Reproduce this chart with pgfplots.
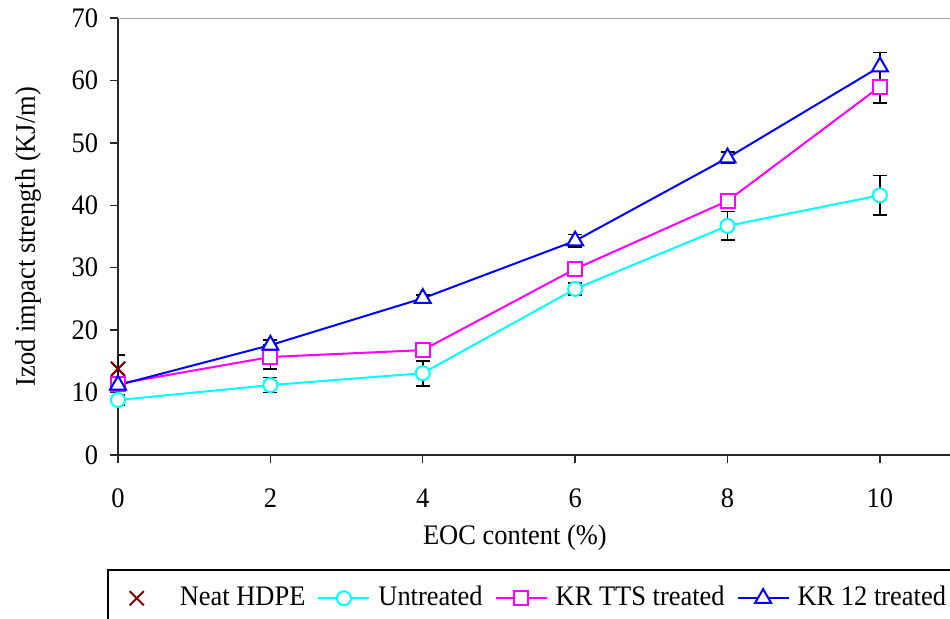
\documentclass[border=0pt]{standalone}
\usepackage{fontspec}
\setmainfont{Liberation Serif}[FakeStretch=0.935]
\usepackage{pgfplots}
\pgfplotsset{compat=1.18}

\definecolor{neatred}{RGB}{128,0,0}
\definecolor{axisgray}{RGB}{40,40,40}
\definecolor{untreatedc}{RGB}{0,255,255}
\definecolor{kttsc}{RGB}{255,0,255}
\definecolor{k12c}{RGB}{0,0,255}

\newcommand{\chartfont}{\fontsize{14.2}{16}\selectfont}

\pgfplotsset{
  linelegend/.style={legend image code/.code={%
    \draw[mark repeat=2,mark phase=2,##1]
      plot coordinates {(0bp,0bp) (12.75bp,0bp) (25.5bp,0bp)};}},
  marklegend/.style={legend image code/.code={%
    \path[draw=none] (0bp,0bp) -- (28bp,0bp);
    \draw[##1] plot coordinates {(10.5bp,0bp)};}},
}

\begin{document}
\chartfont
\begin{tikzpicture}
\useasboundingbox (-59bp,-82bp) rectangle (416bp,227.5bp);
\clip (-59bp,-82bp) rectangle (416bp,227.5bp);
\begin{axis}[
  at={(0,0)}, anchor=south west, scale only axis,
  width=416bp, height=218.5bp,
  xmin=0, xmax=10.92, ymin=0, ymax=70,
  xtick={0,2,...,10}, ytick={0,10,...,70},
  axis x line*=bottom, axis y line*=left,
  axis line style={axisgray, line width=0.7bp},
  tick align=outside, major tick length=4bp,
  tick style={axisgray, line width=0.7bp},
  /pgf/number format/assume math mode=true,
  tick label style={font=\chartfont},
  xticklabel style={yshift=-8bp},
  yticklabel style={xshift=-1bp},
  xlabel={EOC content (\%)},
  ylabel={Izod impact strength (KJ/m)},
  label style={font=\chartfont},
  x label style={at={(axis description cs:0.477,-0.19)}, anchor=center},
  y label style={at={(axis description cs:-0.108,0.5)}, anchor=center},
  legend columns=4,
  legend style={at={(axis description cs:-0.012,-0.263)}, anchor=north west,
    draw=none, inner xsep=3.7bp, inner ysep=6bp,
    font=\chartfont,
    /tikz/every odd column/.append style={column sep=2bp},
    /tikz/every even column/.append style={column sep=4bp}},
  legend cell align=left,
  error bars/y dir=both, error bars/y explicit,
  error bars/error bar style={black, line width=0.8bp},
  error bars/error mark options={rotate=90, black, mark size=3.5bp, line width=0.8bp},
]
% neat HDPE reference
\addplot[only marks, marklegend, neatred, mark=x, mark size=5bp, line width=1bp]
  coordinates {(0,13.8) +- (0,2.2)};
\addlegendentry{Neat HDPE}
% untreated EOC
\addplot[linelegend, untreatedc, line width=1bp, mark=*, mark size=3.5bp,
  mark options={fill=white, line width=1bp}]
  coordinates {
    (0,8.8) +- (0,0.8)
    (2,11.2) +- (0,1.2)
    (4,13.1) +- (0,2.0)
    (6,26.6) +- (0,1.0)
    (8,36.7) +- (0,2.3)
    (10,41.6) +- (0,3.2)
  };
\addlegendentry{Untreated}
% KR TTS treated EOC
\addplot[linelegend, kttsc, line width=1bp, mark=square*, mark size=3.5bp,
  mark options={fill=white, line width=1bp}]
  coordinates {
    (0,11.4) +- (0,0.6)
    (2,15.7) +- (0,1.9)
    (4,16.8) +- (0,1.1)
    (6,29.8) +- (0,0.8)
    (8,40.7) +- (0,0.9)
    (10,59.0) +- (0,2.6)
  };
\addlegendentry{KR TTS treated}
% KR 12 treated EOC
\addplot[linelegend, k12c, line width=1bp, mark=triangle*, mark size=4.6bp,
  mark options={fill=white, line width=1bp}]
  coordinates {
    (0,11.2) +- (0,0.6)
    (2,17.6) +- (0,0.8)
    (4,25.1) +- (0,0.5)
    (6,34.3) +- (0,1.0)
    (8,47.6) +- (0,0.9)
    (10,62.2) +- (0,2.3)
  };
\addlegendentry{KR 12 treated}
\draw[gray!70, line width=0.7bp] (rel axis cs:0,1) -- (rel axis cs:1,1);
\end{axis}
% legend frame, running past the right and bottom edges
\draw[black, line width=0.6bp] (-5bp,-100bp) -- (-5bp,-57.5bp) -- (440bp,-57.5bp);
\end{tikzpicture}
\end{document}
